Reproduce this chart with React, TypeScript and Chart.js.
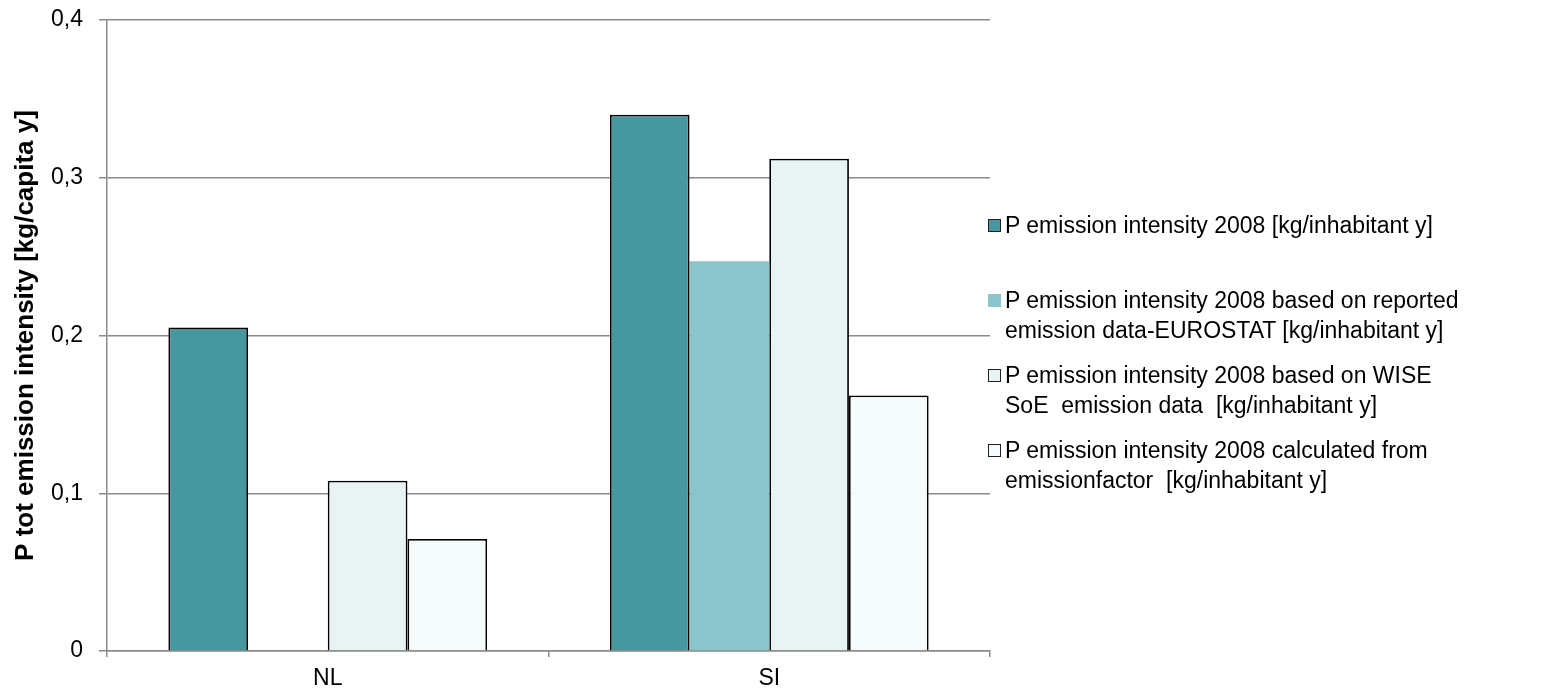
import React, { useEffect, useRef } from "react";
import { Chart, registerables } from "chart.js";

Chart.register(...registerables);

// Countries on the category axis
const countries: string[] = ["NL", "SI"];

// P emission intensity 2008, kg per inhabitant and year
const intensity2008: (number | null)[] = [0.205, 0.34];
const eurostatBased: (number | null)[] = [null, 0.247];
const wiseSoeBased: (number | null)[] = [0.108, 0.312];
const emissionFactorBased: (number | null)[] = [0.071, 0.162];

const seriesLabels: string[][] = [
  ["P emission intensity 2008 [kg/inhabitant y]"],
  ["P emission intensity 2008 based on reported", "emission data-EUROSTAT [kg/inhabitant y]"],
  ["P emission intensity 2008 based on WISE", "SoE\u00a0 emission data\u00a0 [kg/inhabitant y]"],
  ["P emission intensity 2008 calculated from", "emissionfactor\u00a0 [kg/inhabitant y]"],
];

const yTicks: number[] = [0, 0.1, 0.2, 0.3, 0.4];

const fills = ["#46979f", "#8bc5cc", "#e8f4f4", "#f5fafa"];
const borders = ["#000", "rgba(0,0,0,0)", "#000", "#000"];
const borderWidths = [1.8, 0, 1.8, 1.8];

const FONT = "'Liberation Sans', Arial, sans-serif";
const GRID = "#8a8a8a";

export default function App() {
  const canvasRef = useRef<HTMLCanvasElement | null>(null);

  useEffect(() => {
    const canvas = canvasRef.current;
    if (!canvas) return;
    const seriesValues = [intensity2008, eurostatBased, wiseSoeBased, emissionFactorBased];
    const chart = new Chart(canvas, {
      type: "bar",
      data: {
        labels: countries,
        datasets: seriesValues.map((values, i) => ({
          label: seriesLabels[i].join(" "),
          data: values,
          backgroundColor: fills[i],
          borderColor: borders[i],
          borderWidth: borderWidths[i],
          borderSkipped: "bottom" as const,
          barPercentage: 1,
          categoryPercentage: 0.722,
        })),
      },
      options: {
        responsive: false,
        animation: false,
        layout: { padding: { top: 20, right: 564, left: 0, bottom: 0 } },
        plugins: {
          legend: { display: false },
          tooltip: { enabled: false },
        },
        scales: {
          x: {
            offset: true,
            grid: {
              display: true,
              offset: true,
              drawOnChartArea: false,
              drawTicks: true,
              tickLength: 6,
              color: GRID,
              lineWidth: 1.5,
            },
            border: { display: true, color: GRID, width: 1.5 },
            ticks: {
              color: "#000",
              font: { family: FONT, size: 23 },
              padding: 8,
            },
            afterFit: (scale: any) => {
              scale.height = 39;
            },
          },
          y: {
            min: 0,
            max: 0.4,
            afterBuildTicks: (scale: any) => {
              scale.ticks = yTicks.map((v) => ({ value: v }));
            },
            grid: {
              color: GRID,
              lineWidth: 1.5,
              tickLength: 8,
              drawTicks: true,
            },
            border: { display: true, color: GRID, width: 1.5 },
            ticks: {
              color: "#000",
              font: { family: FONT, size: 23 },
              padding: 16,
              callback: (v: any) => (Number(v) === 0 ? "0" : Number(v).toFixed(1).replace(".", ",")),
            },
            title: {
              display: true,
              text: "P tot emission intensity [kg/capita y]",
              color: "#000",
              font: { family: FONT, size: 26, weight: "bold" },
              padding: { top: 10, bottom: 0 },
            },
            afterFit: (scale: any) => {
              scale.width = 107;
              scale.paddingTop = 0;
              scale.paddingBottom = 0;
            },
          },
        },
      },
    });
    return () => chart.destroy();
  }, []);

  return (
    <div style={{ position: "fixed", left: 0, top: 0, width: 1554, height: 690, background: "#fff" }}>
      <canvas
        ref={canvasRef}
        width={1554}
        height={690}
        style={{ position: "absolute", left: 0, top: 0, width: 1554, height: 690 }}
      />
      <div
        style={{
          position: "absolute",
          left: 988,
          top: 210,
          fontFamily: FONT,
          fontSize: 23,
          lineHeight: "30px",
          color: "#000",
        }}
      >
        {seriesLabels.map((lines, i) => (
          <div key={i} style={{ position: "relative", height: 75, paddingLeft: 17, whiteSpace: "nowrap" }}>
            <span
              style={{
                position: "absolute",
                left: 0,
                top: 9,
                boxSizing: "border-box",
                width: 13,
                height: 13,
                background: fills[i],
                border: i === 1 ? "none" : "1.5px solid #222",
              }}
            />
            {lines.map((t, j) => (
              <div key={j}>{t}</div>
            ))}
          </div>
        ))}
      </div>
    </div>
  );
}
